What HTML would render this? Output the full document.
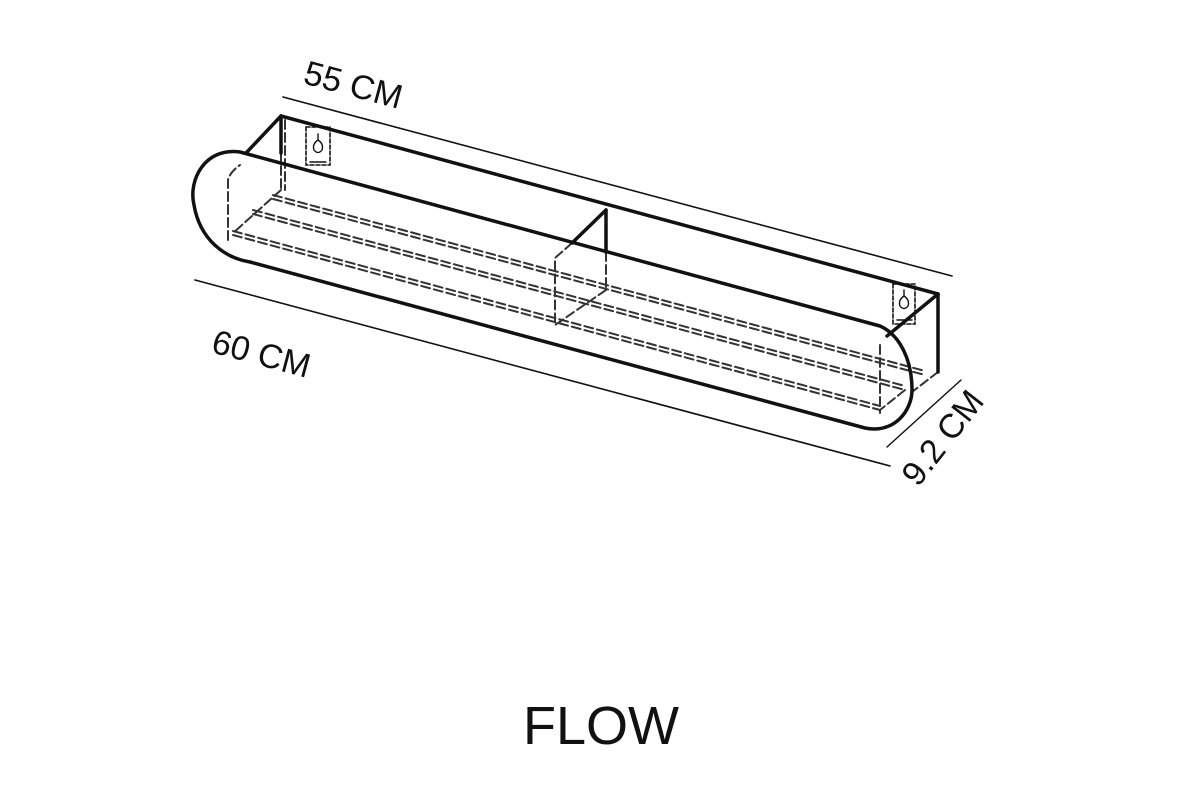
<!DOCTYPE html>
<html><head><meta charset="utf-8"><style>
html,body{margin:0;padding:0;background:#fff;width:1200px;height:800px;overflow:hidden}
svg{display:block}
text{font-family:"Liberation Sans",sans-serif;fill:#111}
</style></head><body>
<svg width="1200" height="800" viewBox="0 0 1200 800" xmlns="http://www.w3.org/2000/svg">
<g stroke="#111" fill="none" stroke-linecap="round">
<!-- dimension lines -->
<line x1="283" y1="97" x2="952" y2="276" stroke-width="1.6"/>
<line x1="195" y1="280" x2="890" y2="466" stroke-width="1.6"/>
<line x1="887" y1="447" x2="961" y2="380" stroke-width="1.4"/>
<!-- dashed shelf lines -->
<g stroke-width="2" stroke-dasharray="9,4" stroke="#333">
<line x1="273" y1="195" x2="925" y2="371"/>
<line x1="273" y1="199" x2="925" y2="375"/>
<line x1="253" y1="210" x2="905" y2="386"/>
<line x1="253" y1="214" x2="905" y2="390"/>
<line x1="233" y1="231" x2="880" y2="406"/>
<line x1="233" y1="235" x2="880" y2="410"/>
<path d="M228 240 V180 Q230 172 240 165"/>
<path d="M281 153 V190 M285 120 V190"/>
<line x1="281" y1="190" x2="233" y2="233"/>
<path d="M572 243 L555 258 V325"/>
<line x1="606" y1="252" x2="606" y2="290"/>
<line x1="606" y1="290" x2="555" y2="325"/>
<path d="M880 345 V413"/>
<line x1="938" y1="372" x2="912" y2="392"/>
<line x1="905" y1="390" x2="880" y2="410"/>
</g>
<!-- hooks -->
<g stroke-width="1.6" stroke-dasharray="4,2">
<rect x="306" y="127" width="24" height="38"/>
<rect x="893" y="284" width="22" height="40"/>
</g>
<g stroke-width="1.4">
<path d="M318 134 v6 q-6 4 -4 10 q4 5 8 0 q2 -6 -4 -10"/>
<path d="M904 290 v6 q-6 4 -4 10 q4 5 8 0 q2 -6 -4 -10"/>
<line x1="310" y1="162" x2="326" y2="162"/>
<line x1="897" y1="320" x2="912" y2="320"/>
</g>
<!-- solid outlines -->
<g stroke-width="3.5" stroke-linejoin="round">
<line x1="281" y1="116" x2="938" y2="294"/>
<line x1="281" y1="116" x2="281" y2="153"/>
<line x1="281" y1="116" x2="246" y2="153"/>
<line x1="938" y1="294" x2="938" y2="372"/>
<line x1="938" y1="294" x2="887" y2="336"/>
<line x1="606" y1="210" x2="572" y2="243"/>
<line x1="606" y1="210" x2="606" y2="252"/>
<path d="M880 326 L240 152 C205 147 188 180 194 205 C200 240 225 258 250 262 L865 428 C895 434 912 410 912 390 C912 360 900 335 880 326 Z"/>
</g>
</g>
<text x="0" y="0" font-size="34" transform="translate(302,83) rotate(15)">55 CM</text>
<text x="0" y="0" font-size="34" transform="translate(210,352) rotate(15)">60 CM</text>
<text x="0" y="0" font-size="34" transform="translate(918,488) rotate(-52)">9.2 CM</text>
<text x="601" y="744" font-size="54" text-anchor="middle">FLOW</text>
</svg>
</body></html>
